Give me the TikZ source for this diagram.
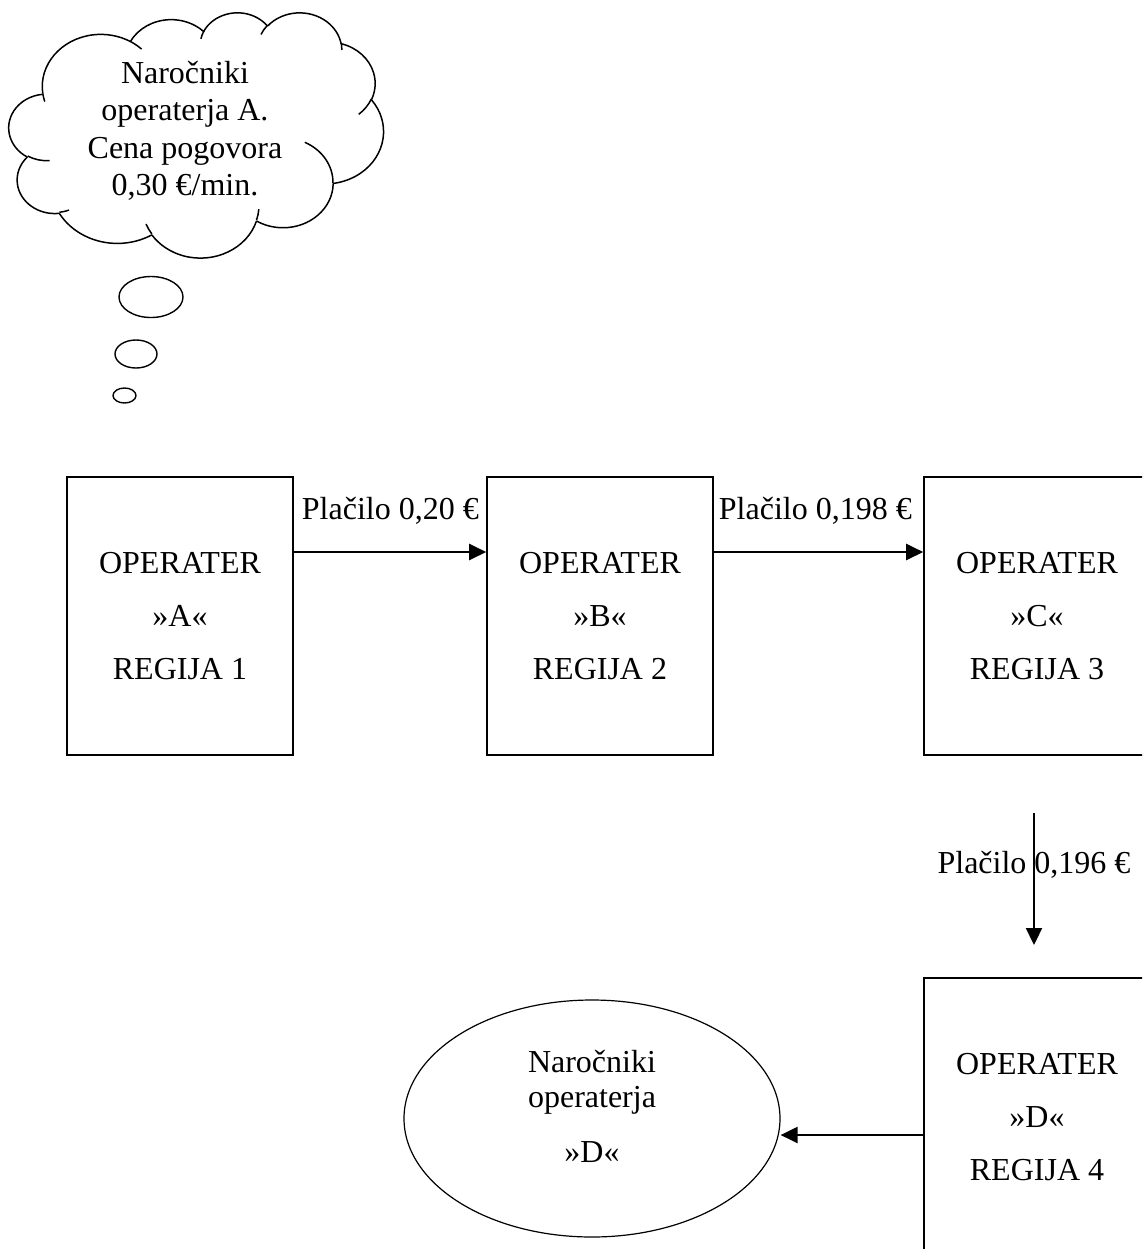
\documentclass[tikz,border=0pt]{standalone}
\usepackage{fontspec}
\setmainfont{Liberation Serif}
\usetikzlibrary{arrows.meta}
\usetikzlibrary{shapes.geometric}

\tikzset{
  opbox/.style={draw,line width=0.8pt,minimum width=113pt,minimum height=139pt,
    inner sep=0pt,align=center,font=\fontsize{16}{26.5}\selectfont},
  bubble/.style={ellipse,draw,line width=0.7pt,inner sep=0pt},
  cloudline/.style={line width=0.75pt},
  pay/.style={->,line width=1.1pt},
  paylabel/.style={inner sep=0pt,font=\fontsize{16}{19}\selectfont},
  >={Triangle[length=8.5pt,width=8pt]}
}

\begin{document}
\begin{tikzpicture}[x=0.5pt,y=-0.5pt]
  \useasboundingbox (0,0) rectangle (1142,1249);
  \clip (0,0) rectangle (1142,1249);
  %% thought cloud of the subscribers (43200 x 43200 units)
  \begin{scope}[shift={(9,12)},x=0.0043287pt,y=-0.0028356pt,cloudline]
    \coordinate (cl) at (3900,14370);
    \foreach \w/\h/\s/\d in {6753/9190/-190.4875/123.7805, 5333/7267/-144.1024/89.9452,
        4365/5945/-145.8079/99.7230, 4857/6595/-130.9861/117.2417,
        5333/7273/-78.7089/109.0269, 6775/9220/-46.2673/130.2690,
        5785/7867/0.6250/114.0333, 6752/9215/22.4516/115.1726,
        7720/10543/66.2426/75.7110, 4360/5918/-274.9421/146.7356,
        4345/5945/-246.8285/152.5189}{
      \pgfmathsetmacro\ta{atan2(\w*sin(\s),\h*cos(\s))}
      \pgfmathsetmacro\tb{atan2(\w*sin(\s+\d),\h*cos(\s+\d))}
      \pgfmathsetmacro\td{mod(\tb-\ta+720,360)}
      \draw (cl) arc[x radius=\w,y radius=\h,start angle=\ta,delta angle=\td] coordinate (cl);
    }
    %% short inner arcs
    \foreach \px/\py/\w/\h/\s/\d in {4693/26177/4345/5945/86.7420/26.4286,
        6928/34899/4360/5918/73.6105/11.4475, 16478/39090/6752/9215/137.6242/14.0811,
        28827/34751/6752/9215/6.4533/15.9984, 34129/22954/5785/7867/-70.2924/70.9174,
        41798/15354/5333/7273/30.3180/27.7515, 38324/5426/4857/6595/-13.7443/14.8547,
        29078/3952/4857/6595/-149.1815/18.1954, 22141/4720/4365/5945/-163.4943/17.6864,
        14000/5192/6753/9190/-66.7070/12.3194, 4127/15789/6753/9190/157.6544/11.8582}{
      \pgfmathsetmacro\ta{atan2(\w*sin(\s),\h*cos(\s))}
      \pgfmathsetmacro\tb{atan2(\w*sin(\s+\d),\h*cos(\s+\d))}
      \pgfmathsetmacro\td{mod(\tb-\ta+720,360)}
      \draw (\px,\py) arc[x radius=\w,y radius=\h,start angle=\ta,delta angle=\td];
    }
  \end{scope}
  \node[align=center,inner sep=0pt,font=\fontsize{16}{18.75}\selectfont] (cloudtext) at (185,131)
    {Naročniki\\operaterja A.\\Cena pogovora\\0,30 €/min.};
  \node[bubble,minimum width=32pt,minimum height=20.5pt] (b1) at (151,297) {};
  \node[bubble,minimum width=21pt,minimum height=14pt] (b2) at (136,354) {};
  \node[bubble,minimum width=11.5pt,minimum height=7.5pt] (b3) at (124.5,395.5) {};
  %% operators
  \node[opbox] (A) at (180,616) {OPERATER\\»A«\\REGIJA 1};
  \node[opbox] (B) at (600,616) {OPERATER\\»B«\\REGIJA 2};
  \node[opbox] (C) at (1037,616) {OPERATER\\»C«\\REGIJA 3};
  \node[opbox] (D) at (1037,1117) {OPERATER\\»D«\\REGIJA 4};
  \node[ellipse,draw,line width=0.6pt,minimum width=188pt,minimum height=118.5pt,inner sep=0pt,
    align=center,text depth=12pt,font=\fontsize{16}{17.5}\selectfont] (E) at (592,1118.5)
    {Naročniki\\operaterja\\[10pt]»D«};
  %% payments
  \draw[pay] ([yshift=32pt]A.east) -- ([yshift=32pt]B.west)
    node[paylabel,pos=0,anchor=base west,xshift=3.5pt,yshift=16.5pt] (p1) {Plačilo 0,20 €};
  \draw[pay] ([yshift=32pt]B.east) -- ([yshift=32pt]C.west)
    node[paylabel,pos=0,anchor=base west,xshift=2pt,yshift=16.5pt] (p2) {Plačilo 0,198 €};
  \coordinate (cd1) at (1034,813);
  \coordinate (cd2) at (1034,945);
  \draw[pay] (cd1) -- (cd2)
    node[paylabel,midway,anchor=base,yshift=3pt] (p3) {Plačilo 0,196 €};
  \coordinate (dw) at ([yshift=-9pt]D.west);
  \draw[pay] (dw) -- (dw -| E.east);
\end{tikzpicture}
\end{document}
